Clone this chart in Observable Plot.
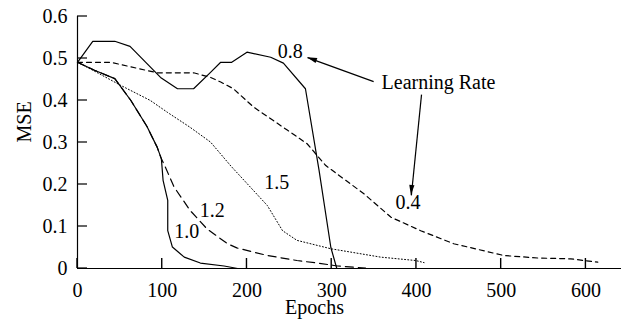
<!DOCTYPE html>
<html><head><meta charset="utf-8">
<script src="https://cdn.jsdelivr.net/npm/d3@7"></script>
<script src="https://cdn.jsdelivr.net/npm/@observablehq/plot@0.6"></script>
<style>html,body{margin:0;padding:0;background:#fff}</style>
</head><body><div id="chart"></div>
<script>
const xTicks = [0, 100, 200, 300, 400, 500, 600];
const yTicks = [0, 0.1, 0.2, 0.3, 0.4, 0.5, 0.6];
const yTickLabels = ["0", "0.1", "0.2", "0.3", "0.4", "0.5", "0.6"];

// Learning rate 0.8 (solid)
const epochs08 = [0, 18, 44, 62, 98, 118, 137, 157, 169, 182, 200, 228, 243, 269, 285, 299, 306];
const mse08    = [0.491, 0.541, 0.541, 0.529, 0.455, 0.428, 0.428, 0.467, 0.491, 0.491, 0.515, 0.503, 0.489, 0.428, 0.235, 0.05, 0];
// Learning rate 0.4 (dashed)
const epochs04 = [0, 15, 39, 94, 137, 157, 169, 184, 208, 248, 271, 293, 338, 370, 405, 444, 503, 543, 582, 614];
const mse04    = [0.491, 0.491, 0.491, 0.466, 0.466, 0.455, 0.444, 0.428, 0.384, 0.329, 0.297, 0.245, 0.178, 0.122, 0.090, 0.059, 0.031, 0.025, 0.023, 0.015];
// Learning rate 1.0 (solid)
const epochs10 = [0, 20, 44, 63, 82, 94, 99, 101, 106.5, 106.5, 112, 126, 145, 173, 189];
const mse10    = [0.491, 0.472, 0.452, 0.400, 0.338, 0.289, 0.261, 0.210, 0.162, 0.090, 0.051, 0.027, 0.013, 0.006, 0];
// Learning rate 1.2 (long dashes)
const epochs12 = [0, 20, 44, 63, 82, 94, 99, 102, 114, 133, 153, 177, 188, 224, 259, 283, 307, 340];
const mse12    = [0.491, 0.472, 0.452, 0.400, 0.338, 0.289, 0.261, 0.249, 0.194, 0.138, 0.094, 0.059, 0.049, 0.031, 0.019, 0.013, 0.006, 0.001];
// Learning rate 1.5 (dotted)
const epochs15 = [0, 19, 51, 86, 106, 133, 157, 181, 224, 242, 259, 299, 358, 399, 409];
const mse15    = [0.491, 0.471, 0.436, 0.400, 0.372, 0.336, 0.301, 0.244, 0.150, 0.090, 0.067, 0.047, 0.027, 0.019, 0.014];

// Annotations
const noteTexts  = ["0.8", "0.4", "1.5", "1.2", "1.0", "Learning Rate"];
const noteEpochs = [251, 390, 235, 159, 129, 426];
const noteMse    = [0.517, 0.157, 0.205, 0.138, 0.088, 0.443];
const arrowFromEpochs = [349.5, 406];
const arrowFromMse    = [0.445, 0.414];
const arrowToEpochs   = [271.5, 394];
const arrowToMse      = [0.502, 0.174];

const toRows = (xs, ys) => xs.map((x, i) => ({x, y: ys[i]}));
const notes = noteTexts.map((t, i) => ({t, x: noteEpochs[i], y: noteMse[i]}));
const arrows = arrowFromEpochs.map((x1, i) => ({x1, y1: arrowFromMse[i], x2: arrowToEpochs[i], y2: arrowToMse[i]}));

const tickLen = 10;
const font = "Liberation Serif, Times New Roman, serif";
const lineOpts = {x: "x", y: "y", stroke: "black", strokeWidth: 1.2, curve: "linear"};

const chart = Plot.plot({
  width: 621, height: 325,
  marginLeft: 77, marginRight: 0, marginTop: 16, marginBottom: 57,
  style: {fontFamily: font, fontSize: "20px", background: "white", color: "black"},
  x: {domain: [0, 642]},
  y: {domain: [0, 0.6]},
  marks: [
    Plot.ruleY([0], {stroke: "black", strokeWidth: 1.2}),
    Plot.ruleX([0], {stroke: "black", strokeWidth: 1.2}),
    // tick labels
    Plot.axisX({ticks: xTicks, tickSize: 0, tickPadding: 14, label: null, fontSize: 20}),
    Plot.axisY({ticks: yTicks, tickFormat: (d, i) => yTickLabels[i], tickSize: 0, tickPadding: 10, label: null, fontSize: 20}),
    Plot.text(["Epochs"], {frameAnchor: "bottom", dx: -35, dy: 45, fontSize: 20}),
    Plot.text(["MSE"], {frameAnchor: "left", rotate: -90, dx: -53, fontSize: 20}),
    Plot.line(toRows(epochs08, mse08), lineOpts),
    Plot.line(toRows(epochs04, mse04), {...lineOpts, strokeDasharray: "5,4"}),
    Plot.line(toRows(epochs10, mse10), lineOpts),
    Plot.line(toRows(epochs12, mse12), {...lineOpts, strokeDasharray: "8,5"}),
    Plot.line(toRows(epochs15, mse15), {...lineOpts, strokeDasharray: "1,2.2", strokeWidth: 1}),
    Plot.link(arrows, {x1: "x1", y1: "y1", x2: "x2", y2: "y2", stroke: "black", strokeWidth: 1.2}),
    Plot.text(notes, {x: "x", y: "y", text: "t", fontSize: 20, textAnchor: "middle"})
  ]
});

const sx = chart.scale("x"), sy = chart.scale("y");
const svg = d3.select(chart);

// inward tick marks, positioned with the chart's own scales
const x0 = sx.apply(0), y0 = sy.apply(0);
const tickG = svg.append("g");
xTicks.forEach(t => {
  const px = sx.apply(t);
  tickG.append("rect").attr("x", px - 0.7).attr("y", y0 - tickLen).attr("width", 1.4).attr("height", tickLen).attr("fill", "black");
});
yTicks.forEach(t => {
  const py = sy.apply(t);
  tickG.append("rect").attr("x", x0).attr("y", py - 0.6).attr("width", tickLen).attr("height", 1.2).attr("fill", "black");
});

// filled arrow heads
arrows.forEach(a => {
  const x1 = sx.apply(a.x1), y1 = sy.apply(a.y1), x2 = sx.apply(a.x2), y2 = sy.apply(a.y2);
  const dx = x2 - x1, dy = y2 - y1, L = Math.hypot(dx, dy);
  const ux = dx / L, uy = dy / L, len = 10, w = 2.6;
  const bx = x2 - ux * len, by = y2 - uy * len;
  const pts = [[x2, y2], [bx - uy * w, by + ux * w], [bx + uy * w, by - ux * w]];
  svg.append("polygon").attr("points", pts.map(p => p.join(",")).join(" ")).attr("fill", "black");
});

document.getElementById("chart").appendChild(chart);
</script>
</body></html>
